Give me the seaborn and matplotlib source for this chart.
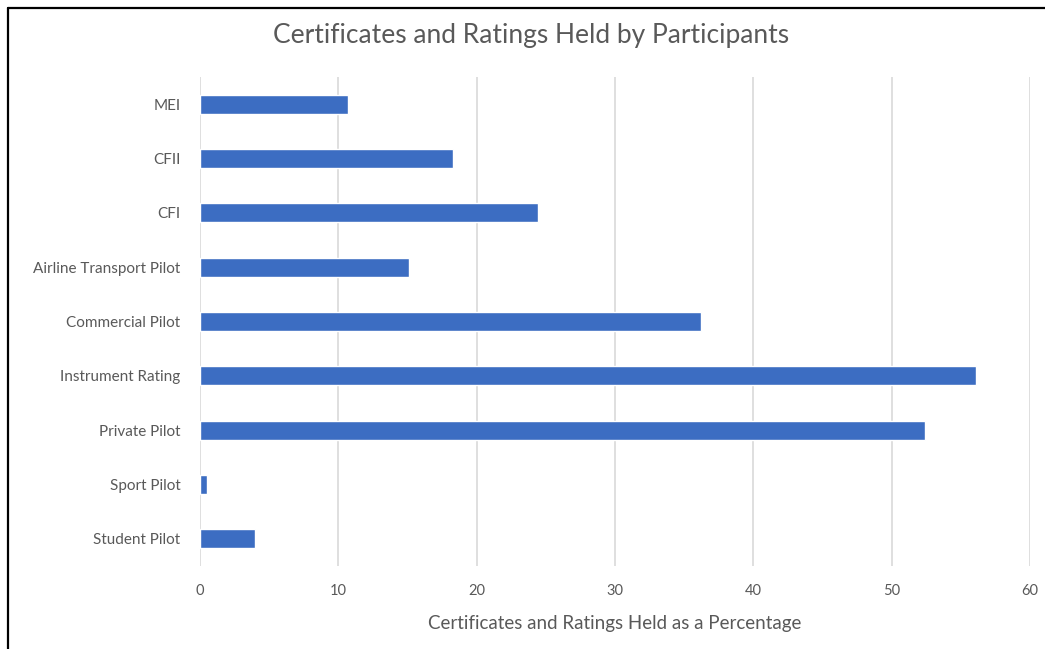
import matplotlib
matplotlib.use("Agg")
import matplotlib.pyplot as plt
from matplotlib.lines import Line2D
import seaborn as sns
import pandas as pd

# Données (de haut en bas)
categories = ["MEI", "CFII", "CFI", "Airline Transport Pilot", "Commercial Pilot",
              "Instrument Rating", "Private Pilot", "Sport Pilot", "Student Pilot"]
percentages = [10.7, 18.3, 24.4, 15.1, 36.2, 56.1, 52.4, 0.5, 4.0]
x_ticks = [0, 10, 20, 30, 40, 50, 60]

df = pd.DataFrame({"category": categories, "pct": percentages})

sns.set_theme(style="white")
plt.rcParams["font.family"] = ["Lato", "DejaVu Sans"]

fig = plt.figure(figsize=(10.45, 6.49), dpi=100)
ax = fig.add_axes([200 / 1045, 83 / 649, 830 / 1045, 489 / 649])

sns.barplot(data=df, x="pct", y="category", order=categories, color="#3C6DC2",
            width=0.35, saturation=1, ax=ax, zorder=3)

ax.set_xlim(0, 60)
ax.set_xticks(x_ticks)
ax.grid(axis="x", color="#D9D9D9", linewidth=1.2, zorder=0)
ax.grid(axis="y", visible=False)
sns.despine(ax=ax, left=True, bottom=True)
ax.tick_params(axis="both", length=0, colors="#595959")
ax.tick_params(axis="y", pad=14, labelsize=11)
ax.tick_params(axis="x", pad=13, labelsize=10.5)

ax.set_ylabel("")
ax.set_xlabel("Certificates and Ratings Held as a Percentage", fontsize=13.5,
              color="#595959", labelpad=12)
fig.text(531 / 1045, 1 - 35 / 649, "Certificates and Ratings Held by Participants",
         ha="center", va="center", fontsize=19, color="#595959")

# Bordure noire (haut et gauche)
fig.add_artist(Line2D([7.5 / 1045, 7.5 / 1045], [0, 1 - 7.5 / 649], transform=fig.transFigure,
                      color="black", linewidth=1.6))
fig.add_artist(Line2D([7.5 / 1045, 1], [1 - 7.5 / 649, 1 - 7.5 / 649], transform=fig.transFigure,
                      color="black", linewidth=1.6))

fig.savefig("out.png", dpi=100)
